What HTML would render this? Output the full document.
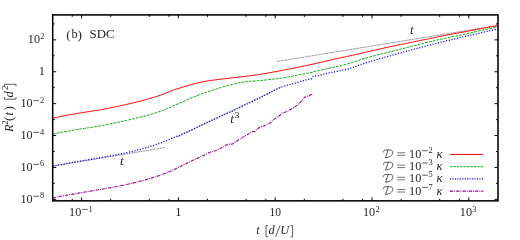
<!DOCTYPE html>
<html><head><meta charset="utf-8"><style>
html,body{margin:0;padding:0;background:#fff;}
svg{display:block;will-change:transform;}
text{font-family:"Liberation Serif",serif;font-size:12.4px;fill:#262626;}
.s{font-size:8.4px;}
.p{font-size:13.4px;}
.a{font-size:13.0px;}
</style></head><body>
<svg width="520" height="240" viewBox="0 0 520 240">
<rect width="520" height="240" fill="#fff"/>
<g fill="none" stroke-width="1">
<g stroke="#222" stroke-width="0.45" stroke-dasharray="2.95,0.55">
<path d="M277,61.5 L498.0,25.4"/>
<path d="M52.7,166.1 L165,147.5"/>
<path d="M177.8,136.9 L281.25,86.9"/>
</g>
<path d="M52.70,118.21 L54.70,117.78 L56.70,117.35 L58.70,116.93 L60.70,116.52 L62.70,116.12 L64.70,115.72 L66.70,115.33 L68.70,114.95 L70.70,114.57 L72.70,114.21 L74.70,113.85 L76.70,113.51 L78.70,113.18 L80.70,112.86 L82.70,112.55 L84.70,112.25 L86.70,111.96 L88.70,111.66 L90.70,111.37 L92.70,111.06 L94.70,110.75 L96.70,110.43 L98.70,110.10 L100.70,109.75 L102.70,109.38 L104.70,109.01 L106.70,108.63 L108.70,108.23 L110.70,107.84 L112.70,107.43 L114.70,107.01 L116.70,106.59 L118.70,106.16 L120.70,105.72 L122.70,105.28 L124.70,104.84 L126.70,104.38 L128.70,103.93 L130.70,103.46 L132.70,102.99 L134.70,102.51 L136.70,102.02 L138.70,101.52 L140.70,101.01 L142.70,100.49 L144.70,99.96 L146.70,99.42 L148.70,98.87 L150.70,98.30 L152.70,97.71 L154.70,97.10 L156.70,96.47 L158.70,95.81 L160.70,95.13 L162.70,94.43 L164.70,93.67 L166.70,92.84 L168.70,91.99 L170.70,91.14 L172.70,90.34 L174.70,89.60 L176.70,88.96 L178.70,88.38 L180.70,87.79 L182.70,87.17 L184.70,86.55 L186.70,85.92 L188.70,85.32 L190.70,84.74 L192.70,84.20 L194.70,83.68 L196.70,83.17 L198.70,82.69 L200.70,82.23 L202.70,81.80 L204.70,81.42 L206.70,81.08 L208.70,80.77 L210.70,80.49 L212.70,80.22 L214.70,79.96 L216.70,79.70 L218.70,79.45 L220.70,79.20 L222.70,78.96 L224.70,78.72 L226.70,78.49 L228.70,78.25 L230.70,78.02 L232.70,77.78 L234.70,77.54 L236.70,77.30 L238.70,77.06 L240.70,76.82 L242.70,76.58 L244.70,76.34 L246.70,76.11 L248.70,75.88 L250.70,75.65 L252.70,75.40 L254.70,75.14 L256.70,74.86 L258.70,74.56 L260.70,74.24 L262.70,73.91 L264.70,73.57 L266.70,73.24 L268.70,72.90 L270.70,72.55 L272.70,72.19 L274.70,71.83 L276.70,71.47 L278.70,71.10 L280.70,70.72 L282.70,70.33 L284.70,69.93 L286.70,69.53 L288.70,69.12 L290.70,68.71 L292.70,68.31 L294.70,67.91 L296.70,67.52 L298.70,67.13 L300.70,66.73 L302.70,66.33 L304.70,65.91 L306.70,65.48 L308.70,65.04 L310.70,64.59 L312.70,64.15 L314.70,63.70 L316.70,63.25 L318.70,62.79 L320.70,62.34 L322.70,61.88 L324.70,61.43 L326.70,60.97 L328.70,60.52 L330.70,60.07 L332.70,59.61 L334.70,59.17 L336.70,58.72 L338.70,58.28 L340.70,57.84 L342.70,57.40 L344.70,56.97 L346.70,56.53 L348.70,56.09 L350.70,55.66 L352.70,55.22 L354.70,54.78 L356.70,54.34 L358.70,53.89 L360.70,53.44 L362.70,52.99 L364.70,52.53 L366.70,52.06 L368.70,51.60 L370.70,51.13 L372.70,50.66 L374.70,50.19 L376.70,49.73 L378.70,49.26 L380.70,48.81 L382.70,48.36 L384.70,47.92 L386.70,47.48 L388.70,47.05 L390.70,46.63 L392.70,46.21 L394.70,45.79 L396.70,45.38 L398.70,44.97 L400.70,44.56 L402.70,44.15 L404.70,43.74 L406.70,43.33 L408.70,42.92 L410.70,42.51 L412.70,42.09 L414.70,41.68 L416.70,41.27 L418.70,40.86 L420.70,40.46 L422.70,40.05 L424.70,39.64 L426.70,39.22 L428.70,38.81 L430.70,38.39 L432.70,37.97 L434.70,37.55 L436.70,37.12 L438.70,36.67 L440.70,36.26 L442.70,35.86 L444.70,35.47 L446.70,35.09 L448.70,34.72 L450.70,34.35 L452.70,33.99 L454.70,33.63 L456.70,33.27 L458.70,32.91 L460.70,32.54 L462.70,32.18 L464.70,31.81 L466.70,31.43 L468.70,31.05 L470.70,30.67 L472.70,30.28 L474.70,29.90 L476.70,29.52 L478.70,29.13 L480.70,28.75 L482.70,28.37 L484.70,27.99 L486.70,27.61 L488.70,27.24 L490.70,26.87 L492.70,26.51 L494.70,26.15 L496.70,25.79 L497.80,25.60" stroke="#ff0000"/>
<path d="M52.70,134.01 L54.70,133.61 L56.70,133.21 L58.70,132.82 L60.70,132.43 L62.70,132.05 L64.70,131.67 L66.70,131.30 L68.70,130.94 L70.70,130.58 L72.70,130.23 L74.70,129.88 L76.70,129.54 L78.70,129.22 L80.70,128.91 L82.70,128.61 L84.70,128.32 L86.70,128.02 L88.70,127.73 L90.70,127.43 L92.70,127.13 L94.70,126.82 L96.70,126.50 L98.70,126.16 L100.70,125.81 L102.70,125.44 L104.70,125.06 L106.70,124.67 L108.70,124.27 L110.70,123.86 L112.70,123.45 L114.70,123.02 L116.70,122.59 L118.70,122.15 L120.70,121.71 L122.70,121.27 L124.70,120.82 L126.70,120.37 L128.70,119.92 L130.70,119.47 L132.70,119.01 L134.70,118.55 L136.70,118.08 L138.70,117.60 L140.70,117.11 L142.70,116.60 L144.70,116.09 L146.70,115.55 L148.70,115.00 L150.70,114.43 L152.70,113.83 L154.70,113.21 L156.70,112.55 L158.70,111.87 L160.70,111.16 L162.70,110.43 L164.70,109.64 L166.70,108.81 L168.70,107.95 L170.70,107.07 L172.70,106.19 L174.70,105.33 L176.70,104.49 L178.70,103.66 L180.70,102.79 L182.70,101.85 L184.70,100.90 L186.70,99.96 L188.70,99.08 L190.70,98.24 L192.70,97.42 L194.70,96.60 L196.70,95.79 L198.70,95.00 L200.70,94.24 L202.70,93.51 L204.70,92.80 L206.70,92.12 L208.70,91.45 L210.70,90.79 L212.70,90.15 L214.70,89.50 L216.70,88.84 L218.70,88.19 L220.70,87.56 L222.70,86.98 L224.70,86.44 L226.70,85.91 L228.70,85.38 L230.70,84.86 L232.70,84.36 L234.70,83.87 L236.70,83.40 L238.70,82.96 L240.70,82.57 L242.70,82.21 L244.70,81.90 L246.70,81.65 L248.70,81.46 L250.70,81.29 L252.70,81.13 L254.70,80.99 L256.70,80.85 L258.70,80.70 L260.70,80.53 L262.70,80.34 L264.70,80.13 L266.70,79.89 L268.70,79.63 L270.70,79.37 L272.70,79.14 L274.70,78.95 L276.70,78.76 L278.70,78.56 L280.70,78.31 L282.70,77.99 L284.70,77.64 L286.70,77.25 L288.70,76.85 L290.70,76.45 L292.70,76.06 L294.70,75.68 L296.70,75.29 L298.70,74.90 L300.70,74.51 L302.70,74.13 L304.70,73.75 L306.70,73.40 L308.70,73.04 L310.70,72.70 L312.50,72.40 L313.75,71.60 L315.75,71.24 L317.75,70.86 L319.75,70.45 L321.75,70.01 L323.75,69.52 L325.75,69.02 L327.75,68.52 L329.75,68.05 L331.75,67.64 L333.75,67.26 L335.75,66.84 L337.75,66.39 L339.75,65.92 L341.75,65.44 L343.75,64.93 L345.75,64.40 L347.75,63.83 L349.75,63.23 L351.75,62.60 L353.75,61.96 L355.75,61.31 L357.75,60.65 L359.75,59.99 L361.75,59.34 L363.75,58.71 L365.75,58.11 L367.75,57.53 L369.75,56.98 L371.75,56.44 L373.75,55.91 L375.75,55.39 L377.75,54.88 L379.75,54.38 L381.75,53.88 L383.75,53.39 L385.75,52.89 L387.75,52.40 L389.75,51.91 L391.75,51.42 L393.75,50.92 L395.75,50.42 L397.75,49.91 L399.75,49.39 L401.75,48.88 L403.75,48.36 L405.75,47.84 L407.75,47.32 L409.75,46.80 L411.75,46.29 L413.75,45.78 L415.75,45.27 L417.75,44.76 L419.75,44.26 L421.75,43.77 L423.75,43.27 L425.75,42.78 L427.75,42.29 L429.75,41.80 L431.75,41.32 L433.75,40.84 L435.75,40.37 L437.75,39.91 L439.75,39.46 L441.75,39.01 L443.75,38.58 L445.75,38.16 L447.75,37.74 L449.75,37.33 L451.75,36.92 L453.75,36.51 L455.75,36.09 L457.75,35.68 L459.75,35.25 L461.75,34.82 L463.75,34.38 L465.75,33.93 L467.75,33.48 L469.75,33.02 L471.75,32.57 L473.75,32.11 L475.75,31.65 L477.75,31.20 L479.75,30.75 L481.75,30.31 L483.75,29.88 L485.75,29.46 L487.75,29.05 L489.75,28.65 L491.75,28.27 L493.75,27.90 L495.75,27.55 L497.75,27.21 L497.80,27.20" stroke="#00a800" stroke-width="1.0" stroke-dasharray="2.7,1.15"/>
<path d="M52.70,166.05 L54.70,165.68 L56.70,165.31 L58.70,164.94 L60.70,164.57 L62.70,164.20 L64.70,163.84 L66.70,163.48 L68.70,163.12 L70.70,162.76 L72.70,162.41 L74.70,162.05 L76.70,161.70 L78.70,161.36 L80.70,161.02 L82.70,160.68 L84.70,160.35 L86.70,160.01 L88.70,159.68 L90.70,159.35 L92.70,159.01 L94.70,158.67 L96.70,158.33 L98.70,157.98 L100.70,157.63 L102.70,157.27 L104.70,156.92 L106.70,156.57 L108.70,156.22 L110.70,155.87 L112.70,155.51 L114.70,155.15 L116.70,154.77 L118.70,154.39 L120.70,154.00 L122.70,153.59 L124.70,153.16 L126.70,152.73 L128.70,152.27 L130.70,151.80 L132.70,151.32 L134.70,150.83 L136.70,150.32 L138.70,149.79 L140.70,149.26 L142.70,148.71 L144.70,148.14 L146.70,147.57 L148.70,146.98 L150.70,146.38 L152.70,145.75 L154.70,145.09 L156.70,144.40 L158.70,143.69 L160.70,142.95 L162.70,142.20 L164.70,141.41 L166.70,140.57 L168.70,139.71 L170.70,138.84 L172.70,137.98 L174.70,137.15 L176.70,136.38 L178.70,135.62 L180.70,134.80 L182.70,133.92 L184.70,133.00 L186.70,132.05 L188.70,131.09 L190.70,130.13 L192.70,129.19 L194.70,128.26 L196.70,127.33 L198.70,126.40 L200.70,125.46 L202.70,124.53 L204.70,123.60 L206.70,122.66 L208.70,121.72 L210.70,120.79 L212.70,119.85 L214.70,118.92 L216.70,117.99 L218.70,117.09 L220.70,116.19 L222.70,115.31 L224.70,114.43 L226.70,113.55 L228.70,112.65 L230.70,111.75 L232.70,110.82 L234.70,109.90 L236.70,108.96 L238.70,108.02 L240.70,107.07 L242.70,106.12 L244.70,105.18 L246.70,104.23 L248.70,103.27 L250.70,102.32 L252.70,101.36 L254.70,100.40 L256.70,99.44 L258.70,98.47 L260.70,97.49 L262.70,96.50 L264.70,95.48 L266.70,94.41 L268.70,93.33 L270.70,92.24 L272.70,91.17 L274.70,90.13 L276.70,89.15 L278.70,88.24 L280.70,87.43 L282.70,86.71 L284.70,86.05 L286.70,85.45 L288.70,84.88 L290.70,84.32 L292.70,83.76 L294.70,83.19 L296.70,82.59 L298.70,81.99 L300.70,81.43 L302.70,80.89 L304.70,80.36 L306.70,79.84 L308.70,79.35 L310.70,78.88 L311.50,78.70 L313.10,76.30 L315.10,75.99 L317.10,75.65 L319.10,75.28 L321.10,74.87 L323.10,74.38 L325.10,73.86 L327.10,73.34 L329.10,72.88 L331.10,72.51 L333.10,72.21 L335.10,71.88 L337.10,71.48 L339.10,71.04 L341.10,70.60 L343.10,70.18 L345.10,69.78 L347.10,69.27 L349.10,68.69 L351.10,68.06 L353.10,67.38 L355.10,66.67 L357.10,65.95 L359.10,65.21 L361.10,64.48 L363.10,63.76 L365.10,63.07 L367.10,62.42 L369.10,61.81 L371.10,61.21 L373.10,60.61 L375.10,60.03 L377.10,59.45 L379.10,58.88 L381.10,58.32 L383.10,57.75 L385.10,57.20 L387.10,56.64 L389.10,56.09 L391.10,55.54 L393.10,54.98 L395.10,54.43 L397.10,53.87 L399.10,53.31 L401.10,52.76 L403.10,52.20 L405.10,51.64 L407.10,51.09 L409.10,50.54 L411.10,49.99 L413.10,49.45 L415.10,48.91 L417.10,48.37 L419.10,47.84 L421.10,47.31 L423.10,46.79 L425.10,46.27 L427.10,45.76 L429.10,45.25 L431.10,44.74 L433.10,44.24 L435.10,43.74 L437.10,43.24 L439.10,42.74 L441.10,42.24 L443.10,41.74 L445.10,41.24 L447.10,40.74 L449.10,40.25 L451.10,39.75 L453.10,39.26 L455.10,38.77 L457.10,38.29 L459.10,37.81 L461.10,37.34 L463.10,36.87 L465.10,36.41 L467.10,35.95 L469.10,35.50 L471.10,35.05 L473.10,34.60 L475.10,34.15 L477.10,33.70 L479.10,33.26 L481.10,32.81 L483.10,32.36 L485.10,31.91 L487.10,31.46 L489.10,31.01 L491.10,30.55 L493.10,30.09 L495.10,29.63 L497.10,29.16 L497.80,29.00" stroke="#0000ff" stroke-width="1.3" stroke-dasharray="1.1,1.67"/>
<path d="M52.70,197.80 L54.70,197.43 L56.70,197.06 L58.70,196.69 L60.70,196.32 L62.70,195.95 L64.70,195.59 L66.70,195.23 L68.70,194.87 L70.70,194.51 L72.70,194.16 L74.70,193.80 L76.70,193.45 L78.70,193.11 L80.70,192.77 L82.70,192.43 L84.70,192.10 L86.70,191.76 L88.70,191.43 L90.70,191.09 L92.70,190.76 L94.70,190.42 L96.70,190.08 L98.70,189.73 L100.70,189.38 L102.70,189.03 L104.70,188.68 L106.70,188.33 L108.70,187.99 L110.70,187.64 L112.70,187.29 L114.70,186.93 L116.70,186.56 L118.70,186.18 L120.70,185.79 L122.70,185.38 L124.70,184.96 L126.70,184.53 L128.70,184.07 L130.70,183.60 L132.70,183.11 L134.70,182.61 L136.70,182.09 L138.70,181.57 L140.70,181.03 L142.70,180.48 L144.70,179.92 L146.70,179.35 L148.70,178.78 L150.70,178.20 L152.70,177.61 L154.70,177.00 L156.70,176.37 L158.70,175.72 L160.70,175.04 L162.70,174.33 L164.70,173.57 L166.70,172.78 L168.70,171.94 L170.70,171.08 L172.70,170.19 L174.70,169.29 L176.70,168.35 L178.70,167.36 L180.00,166.70 L192.50,160.50 L205.00,154.80 L210.00,152.30 L213.00,151.50 L217.50,150.00 L223.75,146.60 L227.50,144.30 L232.50,144.00 L238.75,139.80 L245.00,136.00 L248.75,133.90 L251.25,131.80 L255.00,131.20 L258.75,128.00 L260.60,126.70 L263.75,126.20 L266.90,124.20 L270.00,123.10 L273.10,120.10 L276.25,117.60 L278.75,116.20 L281.90,113.30 L285.00,112.30 L288.75,110.60 L292.80,108.10 L297.50,105.00 L301.25,101.40 L303.75,98.20 L305.00,97.00 L307.50,96.30 L310.00,95.30 L313.10,93.40" stroke="#960096" stroke-width="1.1" stroke-dasharray="3.3,1,0.95,1"/>
</g>
<path d="M450,154.4 H483.2" stroke="#ff0000" stroke-width="1" fill="none"/><g transform="translate(384.0,157.90)"><path d="M-0.6,-5.9 C-0.4,-7.2 0.3,-7.95 1.5,-7.95 L5.8,-7.95 C8.0,-7.95 9.0,-6.8 8.8,-5.2 C8.4,-2.3 5.6,-0.3 1.5,-0.3 M4.1,-7.8 L1.7,-0.4" stroke="#262626" stroke-width="0.75" fill="none" stroke-linecap="round"/></g><path d="M397.2,152.80 h8.0 M397.2,155.30 h8.0" stroke="#262626" stroke-width="0.65" fill="none"/><text x="409.10" y="157.90" textLength="12.2" lengthAdjust="spacingAndGlyphs">10</text><path d="M422.20,150.70 h5.6" stroke="#262626" stroke-width="0.75" fill="none"/><text x="428.60" y="152.90" class="s">2</text><text x="436.6" y="157.90" font-style="italic">κ</text><path d="M450,166.7 H483.2" stroke="#00a800" stroke-width="1.0" stroke-dasharray="2.4,1" fill="none"/><g transform="translate(384.0,170.20)"><path d="M-0.6,-5.9 C-0.4,-7.2 0.3,-7.95 1.5,-7.95 L5.8,-7.95 C8.0,-7.95 9.0,-6.8 8.8,-5.2 C8.4,-2.3 5.6,-0.3 1.5,-0.3 M4.1,-7.8 L1.7,-0.4" stroke="#262626" stroke-width="0.75" fill="none" stroke-linecap="round"/></g><path d="M397.2,165.10 h8.0 M397.2,167.60 h8.0" stroke="#262626" stroke-width="0.65" fill="none"/><text x="409.10" y="170.20" textLength="12.2" lengthAdjust="spacingAndGlyphs">10</text><path d="M422.20,163.00 h5.6" stroke="#262626" stroke-width="0.75" fill="none"/><text x="428.60" y="165.20" class="s">3</text><text x="436.6" y="170.20" font-style="italic">κ</text><path d="M450,178.9 H483.2" stroke="#0000ff" stroke-width="1.3" stroke-dasharray="1.1,1.35" fill="none"/><g transform="translate(384.0,182.40)"><path d="M-0.6,-5.9 C-0.4,-7.2 0.3,-7.95 1.5,-7.95 L5.8,-7.95 C8.0,-7.95 9.0,-6.8 8.8,-5.2 C8.4,-2.3 5.6,-0.3 1.5,-0.3 M4.1,-7.8 L1.7,-0.4" stroke="#262626" stroke-width="0.75" fill="none" stroke-linecap="round"/></g><path d="M397.2,177.30 h8.0 M397.2,179.80 h8.0" stroke="#262626" stroke-width="0.65" fill="none"/><text x="409.10" y="182.40" textLength="12.2" lengthAdjust="spacingAndGlyphs">10</text><path d="M422.20,175.20 h5.6" stroke="#262626" stroke-width="0.75" fill="none"/><text x="428.60" y="177.40" class="s">5</text><text x="436.6" y="182.40" font-style="italic">κ</text><path d="M450,191.1 H483.2" stroke="#960096" stroke-width="1.1" stroke-dasharray="3.3,1,0.95,1" fill="none"/><g transform="translate(384.0,194.60)"><path d="M-0.6,-5.9 C-0.4,-7.2 0.3,-7.95 1.5,-7.95 L5.8,-7.95 C8.0,-7.95 9.0,-6.8 8.8,-5.2 C8.4,-2.3 5.6,-0.3 1.5,-0.3 M4.1,-7.8 L1.7,-0.4" stroke="#262626" stroke-width="0.75" fill="none" stroke-linecap="round"/></g><path d="M397.2,189.50 h8.0 M397.2,192.00 h8.0" stroke="#262626" stroke-width="0.65" fill="none"/><text x="409.10" y="194.60" textLength="12.2" lengthAdjust="spacingAndGlyphs">10</text><path d="M422.20,187.40 h5.6" stroke="#262626" stroke-width="0.75" fill="none"/><text x="428.60" y="189.60" class="s">7</text><text x="436.6" y="194.60" font-style="italic">κ</text>
<g stroke="#000" stroke-width="1" fill="none"><path d="M72.22,200.85 v-2.0 M72.22,14.9 v2.0"/><path d="M81.60,200.85 v-3.5 M81.60,14.9 v3.5"/><path d="M110.74,200.85 v-2.0 M110.74,14.9 v2.0"/><path d="M149.26,200.85 v-2.0 M149.26,14.9 v2.0"/><path d="M169.02,200.85 v-2.0 M169.02,14.9 v2.0"/><path d="M178.40,200.85 v-3.5 M178.40,14.9 v3.5"/><path d="M207.54,200.85 v-2.0 M207.54,14.9 v2.0"/><path d="M246.06,200.85 v-2.0 M246.06,14.9 v2.0"/><path d="M265.82,200.85 v-2.0 M265.82,14.9 v2.0"/><path d="M275.20,200.85 v-3.5 M275.20,14.9 v3.5"/><path d="M304.34,200.85 v-2.0 M304.34,14.9 v2.0"/><path d="M342.86,200.85 v-2.0 M342.86,14.9 v2.0"/><path d="M362.62,200.85 v-2.0 M362.62,14.9 v2.0"/><path d="M372.00,200.85 v-3.5 M372.00,14.9 v3.5"/><path d="M401.14,200.85 v-2.0 M401.14,14.9 v2.0"/><path d="M439.66,200.85 v-2.0 M439.66,14.9 v2.0"/><path d="M459.42,200.85 v-2.0 M459.42,14.9 v2.0"/><path d="M468.80,200.85 v-3.5 M468.80,14.9 v3.5"/><path d="M52.7,199.35 h3.5 M498.0,199.35 h-3.5"/><path d="M52.7,183.40 h2.0 M498.0,183.40 h-2.0"/><path d="M52.7,167.45 h3.5 M498.0,167.45 h-3.5"/><path d="M52.7,151.50 h2.0 M498.0,151.50 h-2.0"/><path d="M52.7,135.55 h3.5 M498.0,135.55 h-3.5"/><path d="M52.7,119.60 h2.0 M498.0,119.60 h-2.0"/><path d="M52.7,103.65 h3.5 M498.0,103.65 h-3.5"/><path d="M52.7,87.70 h2.0 M498.0,87.70 h-2.0"/><path d="M52.7,71.75 h3.5 M498.0,71.75 h-3.5"/><path d="M52.7,55.80 h2.0 M498.0,55.80 h-2.0"/><path d="M52.7,39.85 h3.5 M498.0,39.85 h-3.5"/><path d="M52.7,23.90 h2.0 M498.0,23.90 h-2.0"/></g>
<rect x="52.7" y="14.9" width="445.3" height="185.95" fill="none" stroke="#000" stroke-width="1.55"/>
<text x="27.80" y="43.45" textLength="12.2" lengthAdjust="spacingAndGlyphs">10</text><text x="40.20" y="38.85" class="s">2</text><text x="44.9" y="75.35" text-anchor="end">1</text><text x="20.40" y="107.25" textLength="12.2" lengthAdjust="spacingAndGlyphs">10</text><path d="M33.50,100.55 h5.6" stroke="#262626" stroke-width="0.75" fill="none"/><text x="39.90" y="102.65" class="s">2</text><text x="20.40" y="139.15" textLength="12.2" lengthAdjust="spacingAndGlyphs">10</text><path d="M33.50,132.45 h5.6" stroke="#262626" stroke-width="0.75" fill="none"/><text x="39.90" y="134.55" class="s">4</text><text x="20.40" y="171.05" textLength="12.2" lengthAdjust="spacingAndGlyphs">10</text><path d="M33.50,164.35 h5.6" stroke="#262626" stroke-width="0.75" fill="none"/><text x="39.90" y="166.45" class="s">6</text><text x="20.40" y="202.95" textLength="12.2" lengthAdjust="spacingAndGlyphs">10</text><path d="M33.50,196.25 h5.6" stroke="#262626" stroke-width="0.75" fill="none"/><text x="39.90" y="198.35" class="s">8</text><text x="69.10" y="216.10" textLength="12.2" lengthAdjust="spacingAndGlyphs">10</text><path d="M82.20,209.40 h5.6" stroke="#262626" stroke-width="0.75" fill="none"/><text x="88.60" y="211.50" class="s">1</text><text x="178.40" y="216.1" text-anchor="middle">1</text><text x="269.40" y="216.1" textLength="11.6" lengthAdjust="spacingAndGlyphs">10</text><text x="363.00" y="216.10" textLength="12.2" lengthAdjust="spacingAndGlyphs">10</text><text x="375.40" y="211.50" class="s">2</text><text x="459.80" y="216.10" textLength="12.2" lengthAdjust="spacingAndGlyphs">10</text><text x="472.20" y="211.50" class="s">3</text>
<text y="38.4"><tspan x="66.3" class="p" dy="0.5">(</tspan><tspan x="71.4" dy="-0.5">b</tspan><tspan x="77.6" class="p" dy="0.5">)</tspan></text>
<text x="89.6" y="38.4" textLength="25" lengthAdjust="spacingAndGlyphs">SDC</text>
<text x="411.9" y="33.9" text-anchor="middle" font-style="italic" class="a">t</text>
<text x="121.9" y="165.4" text-anchor="middle" font-style="italic" class="a">t</text>
<text x="230.2" y="122.9" font-style="italic" class="a">t</text><text x="234.6" y="117.9" class="s" textLength="5" lengthAdjust="spacingAndGlyphs">3</text>
<text y="234.2"><tspan x="256.3" font-style="italic">t</tspan><tspan x="268.4" font-style="italic">d</tspan><tspan x="280.3" font-style="italic">U</tspan></text>
<path d="M268.1,225.6 h-2.1 v11.2 h2.1 M290.5,225.6 h2.1 v11.2 h-2.1 M275.6,236.8 L280.0,225.5" stroke="#262626" stroke-width="0.75" fill="none"/>
<g transform="translate(13.4,132.0) rotate(-90)"><text y="0"><tspan x="0.1" font-style="italic">R</tspan><tspan x="7.5" dy="-5.9" class="s">2</tspan><tspan x="10.9" dy="5.9" class="p">(</tspan><tspan x="16.4" font-style="italic">t</tspan><tspan x="21.6" class="p">)</tspan><tspan x="34.4" font-style="italic">d</tspan><tspan x="42.3" dy="-5.9" class="s">2</tspan></text>
<path d="M34.9,-9 h-2.1 v11.6 h2.1 M45.6,-9 h2.1 v11.6 h-2.1" stroke="#262626" stroke-width="0.75" fill="none"/></g>
</svg>
</body></html>
